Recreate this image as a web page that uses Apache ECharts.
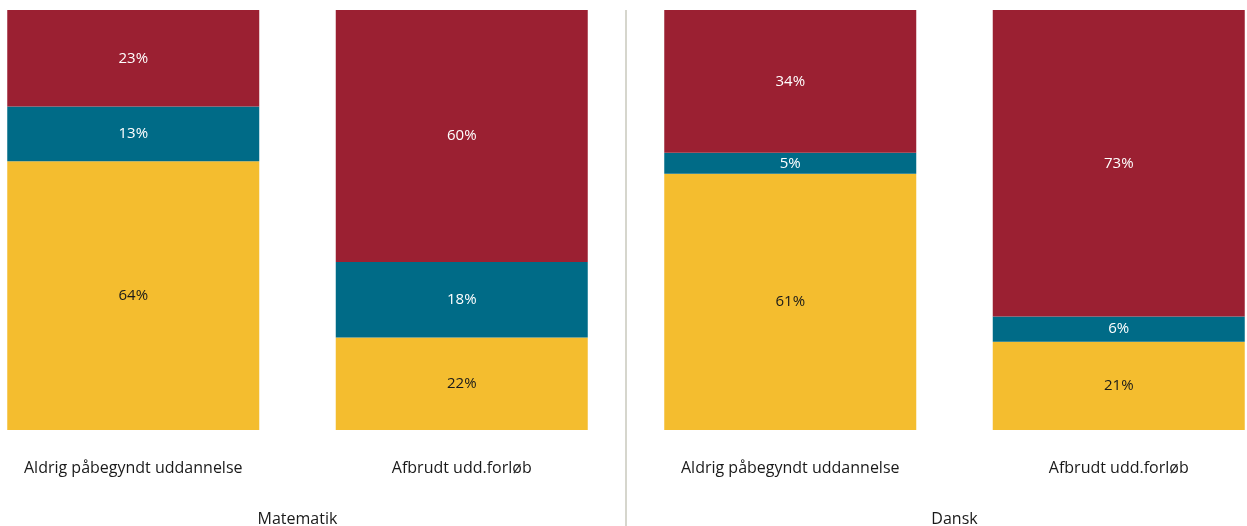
<!DOCTYPE html>
<html>
<head>
<meta charset="utf-8">
<script src="https://cdn.jsdelivr.net/npm/echarts@6/dist/echarts.min.js"></script>
<style>
  html, body { margin: 0; padding: 0; background: #fff; }
  #chart { width: 1247px; height: 526px; }
</style>
</head>
<body>
<div id="chart"></div>
<script>
const categories = ['Aldrig påbegyndt uddannelse', 'Afbrudt udd.forløb', 'Aldrig påbegyndt uddannelse', 'Afbrudt udd.forløb'];
const groups = ['Matematik', 'Dansk'];
const yellowValues = [64, 22, 61, 21];
const tealValues = [13, 18, 5, 6];
const redValues = [23, 60, 34, 73];

const fontFamily = '"Open Sans", Lato, sans-serif';

let myChart = echarts.init(document.getElementById('chart'), null, { renderer: 'canvas' });

const makeSeries = (name, data, color, labelColor) => ({
  name: name,
  type: 'bar',
  stack: 'total',
  barWidth: 252,
  data: data,
  itemStyle: { color: color },
  label: {
    show: true,
    position: 'inside',
    formatter: '{c}%',
    color: labelColor,
    fontFamily: fontFamily,
    fontSize: 15
  },
  emphasis: { disabled: true }
});

let option = {
  animation: false,
  grid: {
    left: -31,
    width: 1314,
    top: 10,
    bottom: 96,
    outerBoundsMode: 'none',
    containLabel: false
  },
  xAxis: [
    {
      type: 'category',
      data: categories,
      axisLine: { show: false },
      axisTick: { show: false },
      axisLabel: {
        margin: 30,
        color: '#1a1a1a',
        fontFamily: fontFamily,
        fontSize: 16
      }
    },
    {
      type: 'category',
      data: groups,
      position: 'bottom',
      axisLine: { show: false },
      axisTick: {
        show: true,
        length: 96,
        lineStyle: { color: '#d6d6cd', width: 2 }
      },
      splitLine: {
        show: true,
        lineStyle: { color: '#d6d6cd', width: 2 }
      },
      axisLabel: {
        margin: 81,
        color: '#1a1a1a',
        fontFamily: fontFamily,
        fontSize: 16
      }
    }
  ],
  yAxis: {
    type: 'value',
    min: 0,
    max: 100,
    show: false
  },
  series: [
    makeSeries('yellow', yellowValues, '#f4bd2f', '#1a1a1a'),
    makeSeries('teal', tealValues, '#006b87', '#ffffff'),
    makeSeries('red', redValues, '#9b2032', '#ffffff')
  ]
};

option && myChart.setOption(option);
</script>
</body>
</html>
